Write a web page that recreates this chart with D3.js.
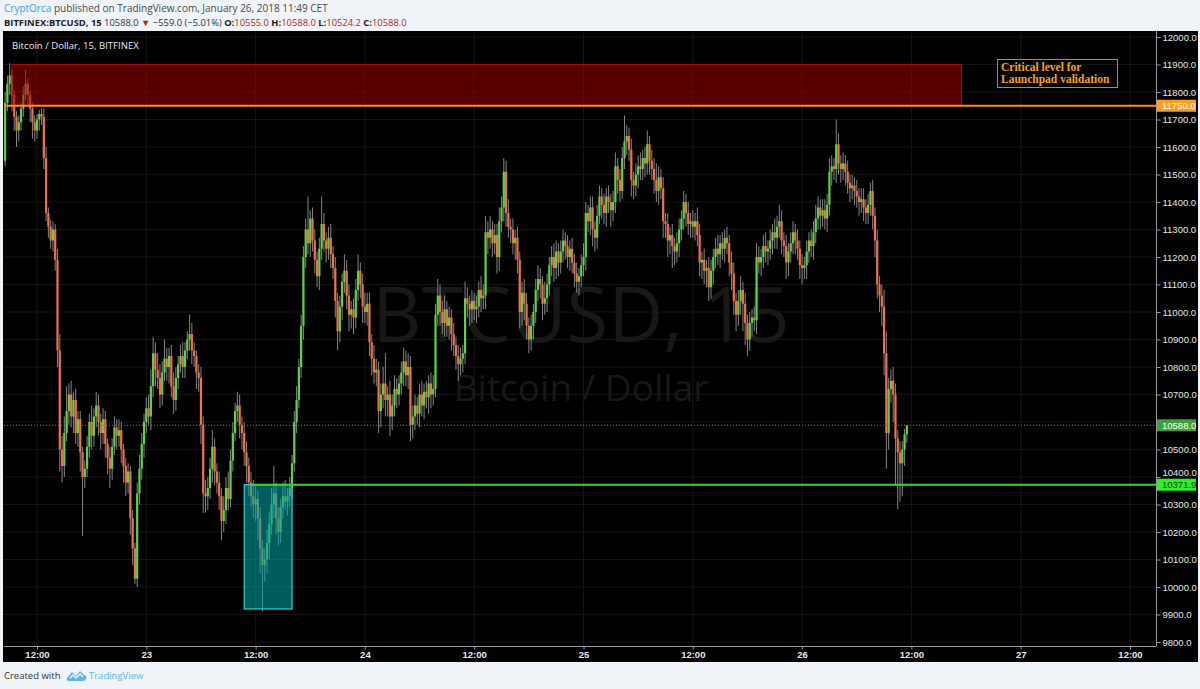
<!DOCTYPE html>
<html><head><meta charset="utf-8">
<script src="https://cdn.jsdelivr.net/npm/d3@7"></script>
<style>
html,body{margin:0;padding:0;background:#f0f3f7;}
svg{display:block;}
</style></head>
<body>
<svg id="c" width="1200" height="689"></svg>
<script>
// ---------- DATA ----------
const startTime = "2018-01-22T08:30:00Z";   // first 15-min candle
const firstOpen = 11550;
const closes = [
11760,11830,11860,11790,11710,11660,11690,11740,11790,11830,
11790,11740,11690,11660,11700,11720,11710,11560,11360,11310,
11260,11300,11190,10860,10500,10440,10560,10640,10700,10620,
10680,10560,10610,10490,10400,10430,10510,10600,10550,10620,
10660,10600,10560,10610,10520,10470,10430,10510,10580,10550,
10570,10500,10440,10380,10420,10250,10140,10030,10340,10430,
10520,10600,10650,10620,10730,10850,10790,10760,10700,10780,
10830,10800,10840,10730,10680,10760,10810,10840,10800,10860,
10900,10920,10860,10840,10780,10760,10590,10340,10330,10360,
10430,10510,10420,10380,10330,10240,10280,10360,10320,10460,
10560,10640,10660,10590,10560,10490,10440,10380,10330,10300,
10320,10250,10140,10080,10100,10160,10230,10300,10340,10250,
10200,10290,10330,10310,10330,10360,10450,10600,10680,10800,
10950,11200,11300,11250,11340,11260,11190,11130,11230,11320,
11260,11230,11270,11210,11160,11040,10930,11020,11110,11150,
11060,10990,11010,10980,11080,11150,11100,11020,11000,11030,
10890,10830,10780,10790,10640,10700,10740,10680,10700,10620,
10660,10720,10700,10740,10780,10820,10770,10800,10590,10620,
10660,10630,10700,10660,10710,10690,10740,10700,10720,10990,
11060,11000,10960,11010,10950,10980,10920,10880,10840,10810,
10830,10850,11050,11030,11010,11040,11010,11020,11080,11050,
11060,11290,11270,11300,11250,11280,11200,11330,11380,11510,
11360,11310,11300,11250,11270,11190,11000,11070,11030,10950,
10900,10950,11000,11080,11120,11100,11030,11050,11100,11170,
11200,11160,11220,11180,11220,11260,11240,11200,11230,11180,
11140,11110,11130,11170,11200,11360,11330,11380,11300,11270,
11350,11420,11390,11360,11420,11400,11370,11400,11530,11480,
11440,11560,11620,11640,11590,11480,11460,11500,11530,11520,
11560,11540,11610,11550,11520,11480,11440,11490,11450,11330,
11320,11260,11280,11240,11220,11250,11300,11340,11400,11360,
11320,11330,11310,11330,11280,11180,11190,11150,11160,11090,
11150,11200,11230,11210,11250,11230,11270,11250,11180,11140,
11040,10990,11040,11080,11030,10960,10900,10960,10980,10970,
11200,11180,11200,11240,11220,11230,11260,11290,11270,11310,
11330,11260,11240,11180,11220,11250,11290,11260,11230,11170,
11160,11170,11220,11260,11240,11290,11340,11380,11350,11370,
11340,11390,11510,11530,11520,11610,11540,11520,11540,11510,
11470,11450,11460,11440,11420,11400,11410,11380,11360,11390,
11440,11350,11260,11100,11060,11020,10850,10560,10720,10750,
10700,10540,10490,10450,10500,10555,10588
];
// upper wick above body top, lower wick below body bottom ($)
const upWick = [
40,30,45,20,15,20,25,20,30,50,20,15,20,25,20,15,20,30,40,20,
25,30,20,40,60,50,60,90,40,50,30,40,30,30,20,30,40,30,60,30,
50,40,30,40,30,20,40,30,40,30,40,30,20,30,30,20,30,20,40,50,
40,30,40,50,60,60,40,60,50,40,70,40,30,40,50,40,30,40,50,30,
30,70,40,30,20,30,40,30,50,40,40,60,30,30,40,30,50,40,60,40,
40,30,50,40,30,40,40,30,40,60,50,30,40,30,40,50,40,60,100,40,
40,30,50,60,30,40,30,40,50,30,40,40,40,120,30,40,40,30,40,100,
40,30,40,50,30,40,30,40,30,60,40,40,30,40,40,60,30,40,50,40,
40,30,50,40,30,40,60,110,30,50,40,50,40,30,40,50,40,50,40,40,
40,30,40,50,30,40,30,40,50,40,60,40,40,50,30,40,30,40,30,40,
40,30,60,40,30,40,30,40,30,50,40,60,40,50,30,40,40,50,40,50,
40,50,30,40,30,40,30,40,50,40,30,40,30,40,50,40,30,60,40,30,
40,50,40,30,40,40,30,40,30,40,30,40,30,40,50,40,30,40,40,30,
40,40,30,40,30,40,30,40,50,30,40,40,95,40,30,40,30,40,40,50,
30,40,50,30,40,40,60,40,30,40,30,40,30,40,30,40,40,30,40,30,
40,30,40,30,50,40,30,40,30,40,40,30,40,50,30,40,30,40,30,40,
40,30,40,50,30,40,30,40,30,40,50,40,30,40,50,30,40,30,50,40,
60,40,30,40,30,40,40,30,40,30,40,30,40,30,40,40,50,40,30,40,
40,40,50,40,30,90,40,30,40,30,40,30,40,30,40,30,40,40,30,40,
30,40,30,40,30,40,60,80,40,40,50,40,30,40,30,20,0
];
const downWick = [
20,30,40,60,50,60,40,30,30,20,40,50,60,40,30,40,30,40,30,40,
30,40,40,60,80,60,40,30,50,40,60,40,50,70,215,40,30,40,50,40,
40,50,60,40,50,60,70,40,30,50,40,50,60,50,40,60,60,20,30,40,
40,50,40,30,50,40,60,40,50,40,30,50,60,40,50,40,40,30,40,40,
30,40,50,40,60,50,70,70,60,50,40,50,50,40,50,70,40,50,40,30,
40,30,40,50,60,50,60,50,40,50,60,80,90,170,60,50,60,40,50,60,
50,40,40,30,50,40,40,30,40,30,40,50,40,40,50,40,50,40,50,40,
40,50,40,50,40,60,70,40,50,40,50,60,50,60,40,40,50,60,40,50,
50,60,40,50,80,60,50,60,60,70,50,40,50,40,40,50,40,50,60,50,
50,40,50,40,50,40,60,50,40,30,40,50,40,50,40,50,60,40,50,60,
40,50,40,50,60,50,40,50,40,50,40,50,60,40,50,40,60,50,40,50,
50,40,50,40,60,50,60,50,60,50,50,40,50,40,40,50,60,40,50,40,
40,50,40,50,40,40,50,40,50,40,50,40,50,40,40,50,40,50,60,50,
40,30,50,40,50,40,60,40,40,50,40,30,40,50,40,60,50,40,50,40,
40,50,40,50,40,50,40,50,40,60,50,60,50,80,50,40,50,40,40,50,
40,50,40,50,40,50,60,50,60,50,40,50,40,40,50,40,50,40,50,60,
50,60,40,50,100,80,60,40,50,40,50,40,50,40,40,50,40,50,40,40,
40,50,40,60,50,40,40,50,40,50,60,40,50,40,40,50,40,40,50,40,
40,50,40,50,40,50,40,50,40,50,40,50,40,50,40,50,40,50,40,40,
40,50,60,50,60,70,80,130,60,50,100,170,207,140,120,60,30.8
];
const priceTicks = d3.range(9800, 12001, 100);
const timeTickLabels = ["12:00","23","12:00","24","12:00","25","12:00","26","12:00","27","12:00"];
const timeTickStart = "2018-01-22T12:00:00Z";
const resistanceZone = {from:"2018-01-22T09:15:00Z", to:"2018-01-26T17:30:00Z", low:11750, high:11900};
const supportZone = {from:"2018-01-23T10:45:00Z", to:"2018-01-23T16:00:00Z", low:9920, high:10372};
const orangeLevel = 11750;
const greenLevel = 10371.9;
const greenLevelStart = "2018-01-23T11:30:00Z";
const lastPrice = 10588.0;

// ---------- LAYOUT ----------
const svg = d3.select("#c");
const W = 1200, H = 689;
const plotL = 4, plotR = 1156, plotT = 31, plotB = 646;

const base = d3.scaleUtc().domain([new Date("2018-01-22T12:00:00Z"), new Date("2018-01-27T12:00:00Z")]).range([37, 1130]);
const x = d3.scaleUtc().domain([base.invert(plotL), base.invert(plotR)]).range([plotL, plotR]);
const y = d3.scaleLinear().domain([9800, 12000]).range([642, 37]);

// build candles
const t0 = new Date(startTime).getTime();
const candles = closes.map((c, i) => {
  const o = i === 0 ? firstOpen : closes[i - 1];
  return {t: new Date(t0 + i * 15 * 60000), o, c,
    h: Math.max(o, c) + upWick[i], l: Math.min(o, c) - downWick[i]};
});

// background
svg.append("rect").attr("width", W).attr("height", H).attr("fill", "#f0f3f7");
svg.append("rect").attr("x", 3).attr("y", plotT).attr("width", 1195).attr("height", 631).attr("fill", "#000");

const tickTimes = timeTickLabels.map((d, i) => new Date(new Date(timeTickStart).getTime() + i * 12 * 3600000));

// grid
const grid = svg.append("g");
grid.selectAll("line.v").data(tickTimes).join("line")
  .attr("x1", d => x(d)).attr("x2", d => x(d)).attr("y1", plotT).attr("y2", plotB)
  .attr("stroke", "#161616").attr("stroke-width", 1);
grid.selectAll("line.h").data(priceTicks).join("line")
  .attr("x1", plotL).attr("x2", plotR).attr("y1", d => y(d)).attr("y2", d => y(d))
  .attr("stroke", "#141414").attr("stroke-width", 1);

// watermark
svg.append("text").attr("x", 581).attr("y", 342).attr("text-anchor", "middle")
  .attr("font-family", "Open Sans, sans-serif").attr("font-size", 76).attr("fill", "#181818")
  .text("BTCUSD, 15");
svg.append("text").attr("x", 581).attr("y", 401).attr("text-anchor", "middle")
  .attr("font-family", "Open Sans, sans-serif").attr("font-size", 37).attr("fill", "#181818")
  .text("Bitcoin / Dollar");

// candles
const cg = svg.append("g");
const bw = 2.2;
cg.selectAll("line.w").data(candles).join("line")
  .attr("x1", d => x(d.t)).attr("x2", d => x(d.t))
  .attr("y1", d => y(d.h)).attr("y2", d => y(d.l))
  .attr("stroke", "#858585").attr("stroke-width", 1);
cg.selectAll("rect.b").data(candles).join("rect")
  .attr("x", d => x(d.t) - bw / 2).attr("width", bw)
  .attr("y", d => y(Math.max(d.o, d.c)))
  .attr("height", d => Math.max(1, Math.abs(y(d.o) - y(d.c))))
  .attr("fill", d => d.c >= d.o ? "#5fd24a" : "#f0714c");

// resistance zone
svg.append("rect")
  .attr("x", x(new Date(resistanceZone.from))).attr("y", y(resistanceZone.high))
  .attr("width", x(new Date(resistanceZone.to)) - x(new Date(resistanceZone.from)))
  .attr("height", y(resistanceZone.low) - y(resistanceZone.high))
  .attr("fill", "rgba(160,0,0,0.55)").attr("stroke", "#9a1010").attr("stroke-width", 1);

// support zone
svg.append("rect")
  .attr("x", x(new Date(supportZone.from))).attr("y", y(supportZone.high))
  .attr("width", x(new Date(supportZone.to)) - x(new Date(supportZone.from)))
  .attr("height", y(supportZone.low) - y(supportZone.high))
  .attr("fill", "rgba(0,160,160,0.58)").attr("stroke", "#33d0d0").attr("stroke-width", 1.2);

// levels
svg.append("line").attr("x1", plotL).attr("x2", plotR).attr("y1", y(lastPrice)).attr("y2", y(lastPrice))
  .attr("stroke", "#3d9a3d").attr("stroke-width", 1).attr("stroke-dasharray", "1,2");
svg.append("line").attr("x1", plotL).attr("x2", plotR).attr("y1", y(orangeLevel)).attr("y2", y(orangeLevel))
  .attr("stroke", "#ff8c1a").attr("stroke-width", 2);
svg.append("line").attr("x1", x(new Date(greenLevelStart))).attr("x2", plotR).attr("y1", y(greenLevel)).attr("y2", y(greenLevel))
  .attr("stroke", "#2fd82f").attr("stroke-width", 2);

// annotation
svg.append("rect").attr("x", 997.5).attr("y", 59.5).attr("width", 120).attr("height", 28)
  .attr("fill", "none").attr("stroke", "#c98a1c").attr("stroke-width", 1);
const ann = svg.append("text").attr("font-family", "Liberation Serif, DejaVu Serif, serif")
  .attr("font-weight", "bold").attr("font-size", 11.5).attr("fill", "#f5a21f");
ann.append("tspan").attr("x", 1001).attr("y", 71).text("Critical level for");
ann.append("tspan").attr("x", 1001).attr("y", 83).text("Launchpad validation");

// axes lines
svg.append("line").attr("x1", plotR + 0.5).attr("x2", plotR + 0.5).attr("y1", plotT).attr("y2", plotB)
  .attr("stroke", "#9a9a9a").attr("stroke-width", 1);
svg.append("line").attr("x1", plotL).attr("x2", plotR).attr("y1", plotB + 0.5).attr("y2", plotB + 0.5)
  .attr("stroke", "#9a9a9a").attr("stroke-width", 1);

// price axis (tick labels hidden behind the last-price tag are skipped, as on the source)
const yAxis = d3.axisRight(y).tickValues(priceTicks)
  .tickFormat(d => Math.abs(y(d) - y(lastPrice)) < 9 ? "" : d3.format(".1f")(d))
  .tickSize(4).tickPadding(2);
const ya = svg.append("g").attr("transform", `translate(${plotR + 0.5},0)`).call(yAxis);
ya.select(".domain").remove();
ya.selectAll("line").attr("stroke", "#9a9a9a");
ya.selectAll("text").attr("fill", "#e8e8e8").attr("font-family", "Liberation Sans, Arial, sans-serif").attr("font-size", 9.5);
// nudge a label that sits right on top of the support tag
ya.selectAll(".tick").filter(d => Math.abs(y(d) - y(greenLevel)) < 9)
  .select("text").attr("dy", "-0.15em");

// time axis
const xAxis = d3.axisBottom(x).tickValues(tickTimes).tickFormat((d, i) => timeTickLabels[i]).tickSize(3).tickPadding(2);
const xa = svg.append("g").attr("transform", `translate(0,${plotB + 0.5})`).call(xAxis);
xa.select(".domain").remove();
xa.selectAll("line").attr("stroke", "#9a9a9a");
xa.selectAll("text").attr("fill", "#e8e8e8").attr("font-family", "Liberation Sans, Arial, sans-serif").attr("font-size", 9.5).attr("font-weight", "bold");

// price labels on axis
function priceLabel(v, bg, fg) {
  const g = svg.append("g");
  g.append("rect").attr("x", plotR + 1).attr("y", y(v) - 6).attr("width", 39).attr("height", 12).attr("fill", bg);
  g.append("text").attr("x", plotR + 6).attr("y", y(v) + 3.5).attr("fill", fg)
    .attr("font-family", "Liberation Sans, Arial, sans-serif").attr("font-size", 9.5).text(d3.format(".1f")(v));
}
priceLabel(orangeLevel, "#ff9d1e", "#ffffff");
priceLabel(lastPrice, "#3f9e3f", "#ffffff");
priceLabel(greenLevel, "#2cf02c", "#0a3a0a");

// chart title
svg.append("text").attr("x", 12).attr("y", 49).attr("fill", "#ececec")
  .attr("font-family", "Open Sans, sans-serif").attr("font-size", 9.6).text("Bitcoin / Dollar, 15, BITFINEX");

// header
const h1 = svg.append("text").attr("x", 4).attr("y", 12).attr("font-family", "Open Sans, sans-serif").attr("font-size", 10);
h1.append("tspan").attr("fill", "#3aa4dc").text("CryptOrca");
h1.append("tspan").attr("fill", "#4a4a4a").text(" published on TradingView.com, January 26, 2018 11:49 CET");

const h2 = svg.append("text").attr("x", 4).attr("y", 26).attr("font-family", "Open Sans, sans-serif").attr("font-size", 9.4);
const h2parts = [
  ["BITFINEX:BTCUSD, 15 ", "#222", "bold"],
  ["10588.0 ", "#333", "normal"],
  ["▼", "#d01818", "normal"],
  [" −559.0 (−5.01%) ", "#333", "normal"],
  ["O:", "#222", "bold"],
  ["10555.0 ", "#b52626", "normal"],
  ["H:", "#222", "bold"],
  ["10588.0 ", "#b52626", "normal"],
  ["L:", "#222", "bold"],
  ["10524.2 ", "#b52626", "normal"],
  ["C:", "#222", "bold"],
  ["10588.0", "#b52626", "normal"]
];
h2parts.forEach(p => h2.append("tspan").attr("fill", p[1]).attr("font-weight", p[2]).text(p[0]));

// footer
svg.append("text").attr("x", 4).attr("y", 679).attr("fill", "#333")
  .attr("font-family", "Open Sans, sans-serif").attr("font-size", 9.5).text("Created with");
const logo = svg.append("g").attr("transform", "translate(67,670)").attr("fill", "#5cb6e6");
logo.append("path").attr("d", "M0,8 L5,2 L9,6 L13,1 L17,5 C19,5 20,7 19,9 C18,11 16,11 15,11 L2,11 C0,11 -1,9 0,8 Z");
logo.append("path").attr("d", "M3,8 L6,5 L9,8 L13,4 L16,7").attr("fill", "none").attr("stroke", "#f0f3f7").attr("stroke-width", 1.3);
svg.append("text").attr("x", 89).attr("y", 679).attr("fill", "#5cb6e6")
  .attr("font-family", "Open Sans, sans-serif").attr("font-size", 9.5).text("TradingView");
</script>
</body></html>
